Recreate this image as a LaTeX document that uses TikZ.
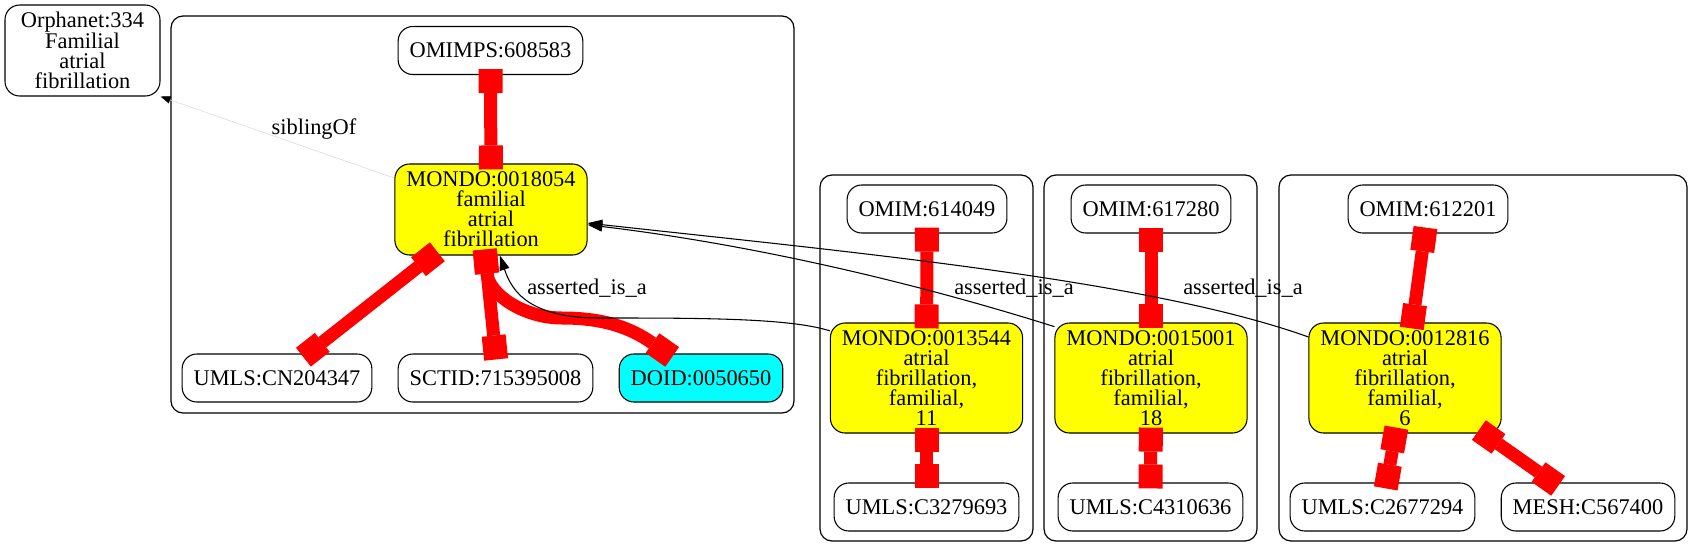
\documentclass[tikz,border=0pt]{standalone}
\usepackage{fontspec}
\setmainfont{Liberation Serif}
\usetikzlibrary{arrows.meta}
\definecolor{termyellow}{RGB}{255,255,0}
\definecolor{termcyan}{RGB}{0,255,255}
\definecolor{xrefred}{RGB}{255,0,0}
\tikzset{
 term/.style={draw,line width=.8pt,rounded corners=11pt,inner xsep=8.6pt,inner ysep=0pt,minimum height=36pt,align=center,font=\fontsize{16.8}{15}\selectfont},
 mondo/.style={term,fill=termyellow,minimum width=144pt,minimum height=82.5pt},
 doidterm/.style={term,fill=termcyan},
 cluster/.style={draw,line width=.9pt,rounded corners=9pt},
 xref/.style={draw=xrefred,line width=9.75pt,{Rectangle[length=18pt,width=18pt,line width=0pt]}-{Rectangle[length=18pt,width=18pt,line width=0pt]},shorten <=-4.5pt,shorten >=-4.5pt},
 isa/.style={draw=black,line width=.8pt,-{Triangle[length=11pt,width=7.5pt]}},
 sibling/.style={draw=black!15,line width=.4pt,-{Triangle[length=7.5pt,width=5.5pt,color=black]}},
 edgelabel/.style={inner sep=0pt,font=\fontsize{16.8}{15}\selectfont}
}
\begin{document}
\begin{tikzpicture}[x=.75pt,y=-.75pt]
\path[use as bounding box] (0,0) rectangle (1703,557);
% clusters
\draw[cluster] (171,16) rectangle (794,413);
\draw[cluster] (820,175) rectangle (1033,541);
\draw[cluster] (1044,175) rectangle (1257,541);
\draw[cluster] (1279,175) rectangle (1687,541);
% terms
\node[term,minimum width=116.25pt,minimum height=68.25pt] (orph) at (82.5,50.5) {Orphanet:334\\Familial\\atrial\\fibrillation};
\node[term] (omimps) at (490.5,50.5) {OMIMPS:608583};
\node[mondo,minimum height=68.25pt] (m18054) at (491,209.5) {MONDO:0018054\\familial\\atrial\\fibrillation};
\node[term] (umlsCN) at (277,378) {UMLS:CN204347};
\node[term] (sctid) at (495.5,378) {SCTID:715395008};
\node[doidterm] (doid) at (701,378) {DOID:0050650};
\node[term] (omim614049) at (927,209) {OMIM:614049};
\node[mondo] (m13544) at (926.5,378) {MONDO:0013544\\atrial\\fibrillation,\\familial,\\11};
\node[term] (umls3279693) at (926.5,507) {UMLS:C3279693};
\node[term] (omim617280) at (1151,209) {OMIM:617280};
\node[mondo] (m15001) at (1151,378) {MONDO:0015001\\atrial\\fibrillation,\\familial,\\18};
\node[term] (umls4310636) at (1150.5,507) {UMLS:C4310636};
\node[term] (omim612201) at (1428,209) {OMIM:612201};
\node[mondo] (m12816) at (1405,378) {MONDO:0012816\\atrial\\fibrillation,\\familial,\\6};
\node[term] (umls2677294) at (1382.5,507) {UMLS:C2677294};
\node[term] (mesh) at (1588,507) {MESH:C567400};
% xrefs
\coordinate (dip) at (562,318);
\draw[xref] (omimps) -- (m18054);
\draw[xref] (m18054) -- (umlsCN);
\draw[xref] (m18054.-97) -- (sctid.north);
\draw[xref] (m18054.-97) to[out=-85,in=180] (dip) to[out=0,in=145] (doid.144);
\draw[xref] (omim614049) -- (m13544);
\draw[xref] (m13544) -- (umls3279693);
\draw[xref] (omim617280) -- (m15001);
\draw[xref] (m15001) -- (umls4310636);
\draw[xref] (omim612201) -- (m12816);
\draw[xref] (m12816) -- (umls2677294);
\draw[xref] (m12816) -- (mesh);
% is_a and sibling edges
\coordinate (flatA) at (600,318);
\draw[isa] (m13544.154) .. controls (790,318) and (700,318) .. (flatA) .. controls (530,318) and (512,292) .. (m18054.-79);
\draw[isa] (m15001.152) .. controls (900,278) and (740,243) .. (m18054.-9);
\draw[isa] (m12816.157) .. controls (1150,280) and (850,252) .. (m18054.-8);
\draw[sibling] (m18054.162) -- (orph.south east);
\node[edgelabel] (lblsib) at (314,129) {siblingOf};
\node[edgelabel] (lblA) at (587,288) {asserted\_is\_a};
\node[edgelabel] (lblB) at (1014,288) {asserted\_is\_a};
\node[edgelabel] (lblC) at (1243,288) {asserted\_is\_a};
\end{tikzpicture}
\end{document}
